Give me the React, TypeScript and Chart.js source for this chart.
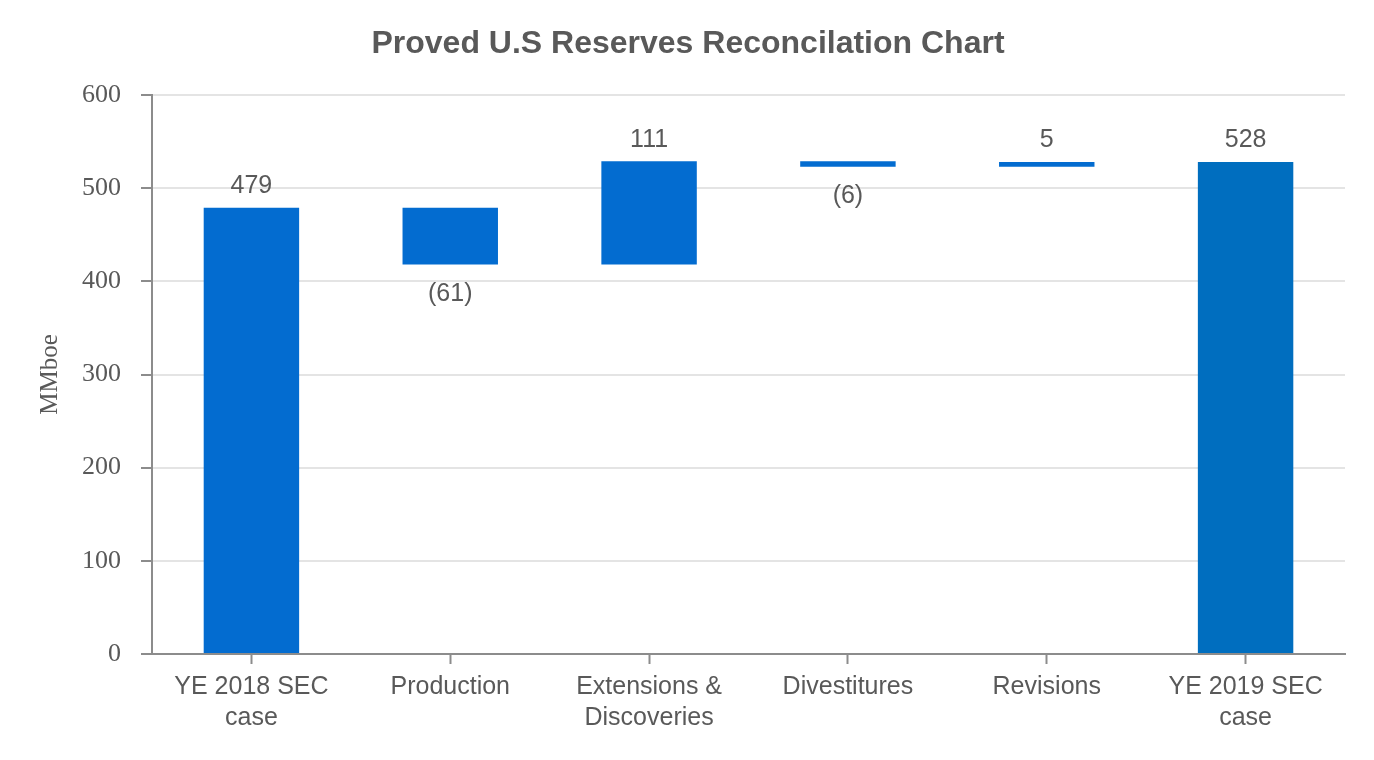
import React, { useEffect, useRef } from "react";
import { Chart, registerables } from "chart.js";

Chart.register(...registerables);

const TITLE = "Proved U.S Reserves Reconcilation Chart";
const Y_TITLE = "MMboe";
const categories: (string | string[])[] = [
  ["YE 2018 SEC", "case"],
  "Production",
  ["Extensions &", "Discoveries"],
  "Divestitures",
  "Revisions",
  ["YE 2019 SEC", "case"],
];
// change values; first and last are totals
const values = [479, -61, 111, -6, 5, 528];
const isTotal = [true, false, false, false, false, true];
const barColors = ["#036cd0", "#036cd0", "#036cd0", "#036cd0", "#036cd0", "#006ebf"];
const yTicks = [0, 100, 200, 300, 400, 500, 600];

const TEXT = "#595959";
const AXIS = "#8c8c8c";
const GRID = "#e4e4e4";

function buildRanges(): [number, number][] {
  const out: [number, number][] = [];
  let running = 0;
  values.forEach((v, i) => {
    if (isTotal[i]) {
      out.push([0, v]);
      running = v;
    } else {
      out.push([running, running + v]);
      running = running + v;
    }
  });
  return out;
}

const labelPlugin = {
  id: "wfLabels",
  afterDatasetsDraw(chart: any) {
    const ctx = chart.ctx;
    const meta = chart.getDatasetMeta(0);
    ctx.save();
    ctx.font = "25px 'Liberation Sans', Arial, sans-serif";
    ctx.fillStyle = TEXT;
    ctx.textAlign = "center";
    meta.data.forEach((el: any, i: number) => {
      const v = values[i];
      const top = Math.min(el.y, el.base);
      const bottom = Math.max(el.y, el.base);
      if (v >= 0) {
        ctx.textBaseline = "bottom";
        ctx.fillText(String(v), el.x, top - 9);
      } else {
        ctx.textBaseline = "top";
        ctx.fillText(`(${Math.abs(v)})`, el.x, bottom + 17);
      }
    });
    ctx.restore();
  },
};

const titlePlugin = {
  id: "canvasTitle",
  afterDraw(chart: any) {
    const ctx = chart.ctx;
    ctx.save();
    ctx.font = "bold 32px 'Liberation Sans', Arial, sans-serif";
    ctx.fillStyle = TEXT;
    ctx.textAlign = "center";
    ctx.textBaseline = "middle";
    ctx.fillText(TITLE, chart.width / 2 + 1, 44);
    ctx.restore();
  },
};

export default function App() {
  const ref = useRef<HTMLCanvasElement | null>(null);
  useEffect(() => {
    if (!ref.current) return;
    const chart = new Chart(ref.current, {
      type: "bar",
      data: {
        labels: categories,
        datasets: [
          {
            data: buildRanges() as any,
            backgroundColor: barColors,
            borderWidth: 0,
            barPercentage: 0.8,
            categoryPercentage: 0.6,
          },
        ],
      },
      options: {
        responsive: false,
        animation: false,
        devicePixelRatio: 1,
        layout: { padding: { left: 0, right: 29, top: 95, bottom: 0 } },
        plugins: {
          legend: { display: false },
          tooltip: { enabled: false },
          title: { display: false },
        },
        scales: {
          x: {
            afterFit: (s: any) => {
              s.height = 106;
            },
            grid: {
              display: true,
              drawOnChartArea: false,
              drawTicks: true,
              tickLength: 10,
              tickColor: AXIS,
              tickWidth: 2,
              offset: false,
            },
            border: { display: true, color: AXIS, width: 2 },
            ticks: {
              color: TEXT,
              padding: 8,
              maxRotation: 0,
              autoSkip: false,
              font: { family: "'Liberation Sans', Arial, sans-serif", size: 25, lineHeight: 1.22 },
            },
          },
          y: {
            min: 0,
            max: 600,
            afterFit: (s: any) => {
              s.width = 152;
            },
            afterBuildTicks: (s: any) => {
              s.ticks = yTicks.map((v) => ({ value: v }));
            },
            grid: {
              color: GRID,
              lineWidth: 2,
              drawTicks: true,
              tickLength: 11,
              tickColor: AXIS,
              tickWidth: 2,
            },
            border: { display: true, color: AXIS, width: 2 },
            ticks: {
              color: TEXT,
              padding: 20,
              font: { family: "'Liberation Serif', 'Times New Roman', serif", size: 26 },
            },
            title: {
              display: true,
              text: Y_TITLE,
              color: TEXT,
              padding: { top: 35, bottom: 0 },
              font: { family: "'Liberation Serif', 'Times New Roman', serif", size: 25 },
            },
          },
        },
      },
      plugins: [labelPlugin, titlePlugin],
    });
    return () => chart.destroy();
  }, []);
  return (
    <div style={{ position: "absolute", left: 0, top: 0, width: 1374, height: 760, background: "#fff" }}>
      <canvas ref={ref} width={1374} height={760} style={{ width: 1374, height: 760 }} />
    </div>
  );
}
